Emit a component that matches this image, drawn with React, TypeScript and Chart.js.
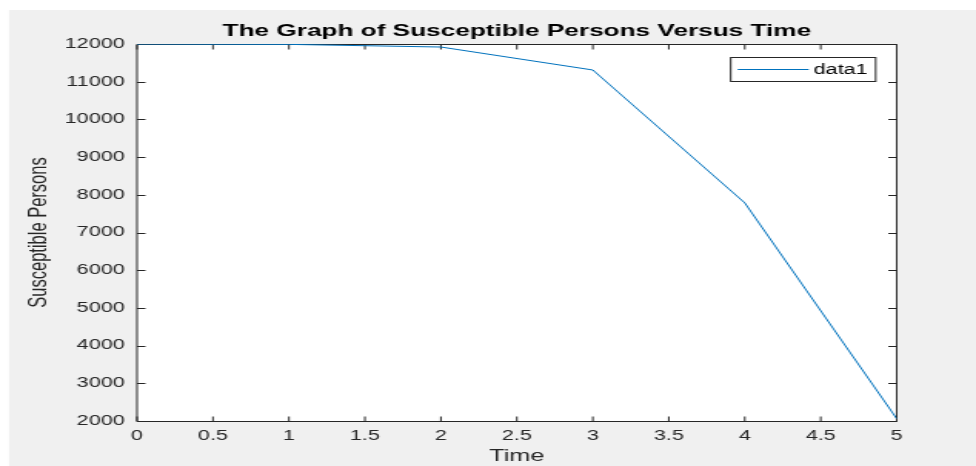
import { useEffect, useRef } from "react";
import { Chart, registerables } from "chart.js";

Chart.register(...registerables);

// ---- data ----
const timeValues = [0, 1, 2, 3, 4, 5];
const susceptibleValues = [12000, 11990, 11920, 11310, 7785, 2060];
const xTickValues = [0, 0.5, 1, 1.5, 2, 2.5, 3, 3.5, 4, 4.5, 5];
const yTickValues = [2000, 3000, 4000, 5000, 6000, 7000, 8000, 9000, 10000, 11000, 12000];
const seriesLabel = "data1";
const titleText = "The Graph of Susceptible Persons Versus Time";
const xAxisLabel = "Time";
const yAxisLabel = "Susceptible Persons";

// ---- layout (the reference is a horizontally stretched MATLAB figure) ----
const STRETCH = 1.54;
const W = 976;
const H = 466;
const CW = Math.round(W / STRETCH);
const PLOT_LEFT = 89;
const PLOT_RIGHT = 582.5;
const PLOT_TOP = 44;
const PLOT_BOTTOM = 421;
const FONT = '"Liberation Sans", Arial, Helvetica, sans-serif';
const AXIS_COLOR = "#262626";
const LINE_COLOR = "#0072BD";

const matlabPlugin = {
  id: "matlabFrame",
  beforeDraw(chart: any) {
    const { ctx, chartArea } = chart;
    ctx.save();
    ctx.fillStyle = "#ffffff";
    ctx.fillRect(0, 0, chart.width, chart.height);
    ctx.fillStyle = "#f0f0f0";
    ctx.fillRect(9 / STRETCH, 10, chart.width, chart.height);
    ctx.fillStyle = "#ffffff";
    ctx.fillRect(chartArea.left, chartArea.top, chartArea.right - chartArea.left, chartArea.bottom - chartArea.top);
    ctx.restore();
  },
  beforeDatasetsDraw(chart: any) {
    const { ctx, chartArea, scales } = chart;
    const l = chartArea.left;
    const r = chartArea.right;
    const t = Math.round(chartArea.top) + 0.5;
    const b = Math.round(chartArea.bottom) + 0.5;
    ctx.save();
    ctx.strokeStyle = AXIS_COLOR;
    ctx.lineWidth = 1;
    ctx.beginPath();
    ctx.moveTo(l, t);
    ctx.lineTo(r, t);
    ctx.lineTo(r, b);
    ctx.lineTo(l, b);
    ctx.closePath();
    ctx.stroke();
    const tickX = 5;
    const tickY = 5.5;
    ctx.beginPath();
    for (const v of xTickValues) {
      const px = scales.x.getPixelForValue(v);
      ctx.moveTo(px, b);
      ctx.lineTo(px, b - tickX);
      ctx.moveTo(px, t);
      ctx.lineTo(px, t + tickX);
    }
    for (const v of yTickValues) {
      const py = Math.round(scales.y.getPixelForValue(v)) + 0.5;
      ctx.moveTo(l, py);
      ctx.lineTo(l + tickY, py);
      ctx.moveTo(r, py);
      ctx.lineTo(r - tickY, py);
    }
    ctx.stroke();
    ctx.restore();
  },
  afterDraw(chart: any) {
    const { ctx, chartArea } = chart;
    ctx.save();
    // title
    ctx.fillStyle = "#000000";
    ctx.font = `bold 17px ${FONT}`;
    ctx.textAlign = "center";
    ctx.textBaseline = "alphabetic";
    ctx.fillText(titleText, (chartArea.left + chartArea.right) / 2, 36);
    // legend
    const ds = chart.data.datasets[0];
    const bx = 731 / STRETCH;
    const bw = (876 - 731) / STRETCH;
    ctx.fillStyle = "#ffffff";
    ctx.fillRect(bx, 57.5, bw, 24);
    ctx.strokeStyle = AXIS_COLOR;
    ctx.lineWidth = 1;
    ctx.strokeRect(bx, 57.5, bw, 24);
    ctx.strokeStyle = LINE_COLOR;
    ctx.lineWidth = 1;
    ctx.beginPath();
    ctx.moveTo(738 / STRETCH, 69.5);
    ctx.lineTo(809 / STRETCH, 69.5);
    ctx.stroke();
    ctx.fillStyle = "#000000";
    ctx.font = `14px ${FONT}`;
    ctx.textAlign = "left";
    ctx.textBaseline = "middle";
    ctx.fillText(ds.label, 814 / STRETCH, 70);
    ctx.restore();
  },
};

export default function App() {
  const canvasRef = useRef<HTMLCanvasElement | null>(null);

  useEffect(() => {
    const canvas = canvasRef.current;
    if (!canvas) return;
    canvas.width = CW;
    canvas.height = H;
    const chart = new Chart(canvas, {
      type: "line",
      data: {
        datasets: [
          {
            label: seriesLabel,
            data: timeValues.map((t, i) => ({ x: t, y: susceptibleValues[i] })),
            borderColor: LINE_COLOR,
            backgroundColor: LINE_COLOR,
            borderWidth: 1,
            pointRadius: 0,
            tension: 0,
            fill: false,
          },
        ],
      },
      options: {
        responsive: false,
        devicePixelRatio: 1,
        animation: false,
        layout: {
          padding: { left: 0, top: PLOT_TOP, right: CW - PLOT_RIGHT, bottom: 0 },
        },
        plugins: {
          legend: { display: false },
          title: { display: false },
          tooltip: { enabled: false },
        },
        scales: {
          x: {
            type: "linear",
            min: 0,
            max: 5,
            grid: { display: false, drawTicks: false },
            border: { display: false },
            afterBuildTicks: (scale: any) => {
              scale.ticks = xTickValues.map((v) => ({ value: v }));
            },
            afterFit: (scale: any) => {
              scale.height = H - PLOT_BOTTOM;
            },
            ticks: {
              autoSkip: false,
              maxRotation: 0,
              padding: 7,
              color: AXIS_COLOR,
              font: { family: FONT, size: 14 },
              callback: (v: any) => String(v),
            },
            title: {
              display: true,
              text: xAxisLabel,
              color: AXIS_COLOR,
              font: { family: FONT, size: 16.5 },
              padding: { top: 0, bottom: 0 },
            },
          },
          y: {
            type: "linear",
            min: 2000,
            max: 12000,
            grid: { display: false, drawTicks: false },
            border: { display: false },
            afterBuildTicks: (scale: any) => {
              scale.ticks = yTickValues.map((v) => ({ value: v }));
            },
            afterFit: (scale: any) => {
              scale.width = PLOT_LEFT;
            },
            ticks: {
              autoSkip: false,
              padding: 8,
              color: AXIS_COLOR,
              font: { family: FONT, size: 14 },
              callback: (v: any) => String(v),
            },
            title: {
              display: true,
              text: yAxisLabel,
              color: AXIS_COLOR,
              font: { family: FONT, size: 16.5 },
              padding: { top: 16, bottom: 0 },
            },
          },
        },
      },
      plugins: [matlabPlugin],
    } as any);
    return () => chart.destroy();
  }, []);

  return (
    <div style={{ position: "fixed", left: 0, top: 0, width: W, height: H, overflow: "hidden" }}>
      <canvas
        ref={canvasRef}
        width={CW}
        height={H}
        style={{ display: "block", width: `${W}px`, height: `${H}px` }}
      />
    </div>
  );
}
